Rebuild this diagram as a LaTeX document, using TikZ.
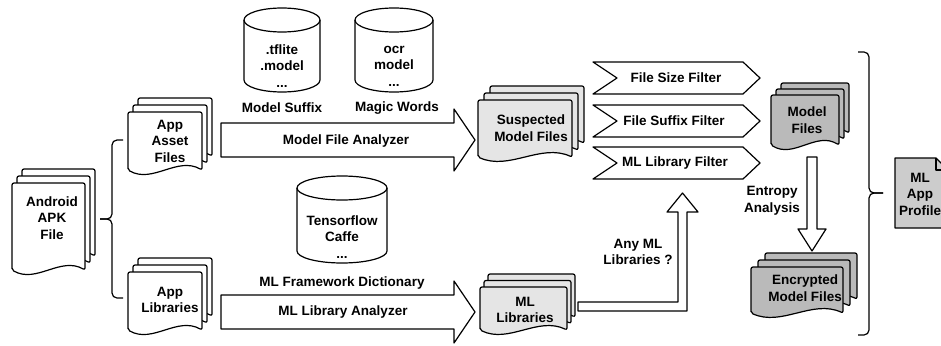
\documentclass[tikz,border=0pt]{standalone}
\usepackage{fontspec}
\setmainfont{Liberation Sans}
% one sheet of a document stack: x, top, width, bottom-end y, wave amplitude, fill
\newcommand{\docsheet}[6]{%
  \filldraw[fill=#6, rounded corners=2pt] ({#1},{#4}) -- ({#1},{#2}) -- ({#1+#3},{#2}) -- ({#1+#3},{#4})
    .. controls ({#1+2*#3/3},{#4-3.5*#5}) and ({#1+#3/3},{#4+3.5*#5}) .. ({#1},{#4}) -- cycle;}
% stack of three sheets: x, top, width, bottom-end y, amplitude, dx, dy(up), fill
\newcommand{\docstack}[8]{%
  \docsheet{#1+2*#6}{#2-2*#7}{#3}{#4-2*#7}{#5}{#8}
  \docsheet{#1+#6}{#2-#7}{#3}{#4-#7}{#5}{#8}
  \docsheet{#1}{#2}{#3}{#4}{#5}{#8}}
\begin{document}
\begin{tikzpicture}[x=1pt,y=-1pt, line width=1.2pt, line join=round,
  lbl/.style={font=\fontsize{13.5}{16.5}\selectfont\bfseries, align=center, inner sep=0pt},
  bracestyle/.style={rounded corners=5pt, line width=1.2pt},
  blockarrow/.style={draw, fill=white, line width=1.2pt},
  cyl/.style={draw, fill=white, line width=1.2pt}]
\useasboundingbox (0,0) rectangle (941,345);
\clip (0,0) rectangle (941,345);
\fill[white] (0,0) rectangle (941,345);

% ---------- document stacks ----------
\docstack{12}{183}{73}{270}{4}{5}{7}{white}
\node[lbl] (apk) at (52,218) {Android\\APK\\File};

\docstack{128}{112}{74}{170}{4}{5}{7}{white}
\node[lbl] (asset) at (170,141) {App\\Asset\\Files};

\docstack{128}{272}{74}{330}{4}{5}{7}{white}
\node[lbl] (libs) at (170,300) {App\\Libraries};

\docstack{478}{100}{94}{157}{4}{6}{7}{black!10}
\node[lbl] (susp) at (531,128) {Suspected\\Model Files};

\docstack{480}{287}{87}{330}{4}{4}{6.5}{black!10}
\node[lbl] (mllib) at (525,310) {ML\\Libraries};

\docstack{771}{95}{68}{145}{4}{5}{6}{black!27}
\node[lbl] (model) at (807,120) {Model\\Files};

\docstack{751}{267}{92}{313}{4}{7}{7}{black!27}
\node[lbl] (enc) at (805,288) {Encrypted\\Model Files};

% ---------- braces ----------
\coordinate (lbtop) at (123,140);
\coordinate (lbbot) at (123,298);
\coordinate (lbtip) at (100,219);
\draw[bracestyle] (lbtop) -- (112,140) -- (112,219) -- (lbtip);
\draw[bracestyle] (lbtip) -- (112,219) -- (112,298) -- (lbbot);

\coordinate (rbtop) at (858,52);
\coordinate (rbbot) at (858,335);
\coordinate (rbtip) at (883,193);
\draw[bracestyle] (rbtop) -- (869,52) -- (869,193) -- (rbtip);
\draw[bracestyle] (rbtip) -- (869,193) -- (869,335) -- (rbbot);

% ---------- cylinders ----------
\path[cyl] (244,20) -- (244,80) arc[start angle=180, end angle=360, x radius=38pt, y radius=12pt]
  -- (320,20) arc[start angle=0, end angle=180, x radius=38pt, y radius=12pt] -- cycle;
\draw (244,20) arc[start angle=180, end angle=360, x radius=38pt, y radius=12pt];
\node[lbl] (suffixdb) at (282,66) {.tflite\\.model\\...};
\node[lbl] (suffixlbl) at (282,108) {Model Suffix};

\path[cyl] (355,20) -- (355,80) arc[start angle=180, end angle=360, x radius=39pt, y radius=12pt]
  -- (433,20) arc[start angle=0, end angle=180, x radius=39pt, y radius=12pt] -- cycle;
\draw (355,20) arc[start angle=180, end angle=360, x radius=39pt, y radius=12pt];
\node[lbl] (magicdb) at (394,66) {ocr\\model\\...};
\node[lbl] (magiclbl) at (397,108) {Magic Words};

\path[cyl] (297,188) -- (297,251) arc[start angle=180, end angle=360, x radius=45pt, y radius=12pt]
  -- (387,188) arc[start angle=0, end angle=180, x radius=45pt, y radius=12pt] -- cycle;
\draw (297,188) arc[start angle=180, end angle=360, x radius=45pt, y radius=12pt];
\node[lbl] (fwdb) at (342,237) {Tensorflow\\Caffe\\...};
\node[lbl] (fwlbl) at (342,283) {ML Framework Dictionary};

% ---------- analyzer arrows ----------
\draw[blockarrow] (221,123) -- (454,123) -- (454,109) -- (475,140) -- (454,171) -- (454,157) -- (221,157) -- cycle;
\node[lbl] (mfa) at (346,141) {Model File Analyzer};

\draw[blockarrow] (221,295) -- (454,295) -- (454,281) -- (475,312) -- (454,343) -- (454,329) -- (221,329) -- cycle;
\node[lbl] (mla) at (343,312) {ML Library Analyzer};

% ---------- filters ----------
\draw[blockarrow] (593,62) -- (743,62) -- (760,78) -- (743,94) -- (593,94) -- (617,78) -- cycle;
\node[lbl] (fsize) at (676,78) {File Size Filter};
\draw[blockarrow] (593,105) -- (743,105) -- (760,121) -- (743,137) -- (593,137) -- (617,121) -- cycle;
\node[lbl] (fsuffix) at (674,121) {File Suffix Filter};
\draw[blockarrow] (593,147) -- (743,147) -- (760,163) -- (743,179) -- (593,179) -- (617,163) -- cycle;
\node[lbl] (fml) at (675,163) {ML Library Filter};

% ---------- bent arrow: any ML libraries ----------
\draw[blockarrow] (578,302) -- (678,302) -- (678,212) -- (667,212) -- (682.5,193) -- (698,212) -- (687,212) -- (687,311) -- (578,311) -- cycle;
\node[lbl] (anyml) at (638,252) {Any ML\\Libraries ?};

% ---------- entropy arrow ----------
\draw[blockarrow] (807,157) -- (817,157) -- (817,229) -- (826,229) -- (812,251) -- (798,229) -- (807,229) -- cycle;
\node[lbl] (entropy) at (772,201) {Entropy\\Analysis};

% ---------- ML App Profile ----------
\filldraw[fill=black!20] (895,158) -- (936,158) -- (948,170) -- (948,228) -- (895,228) -- cycle;
\draw (936,158) -- (936,170) -- (948,170);
\node[lbl] (profile) at (920,194) {ML\\App\\Profile};
\end{tikzpicture}
\end{document}
